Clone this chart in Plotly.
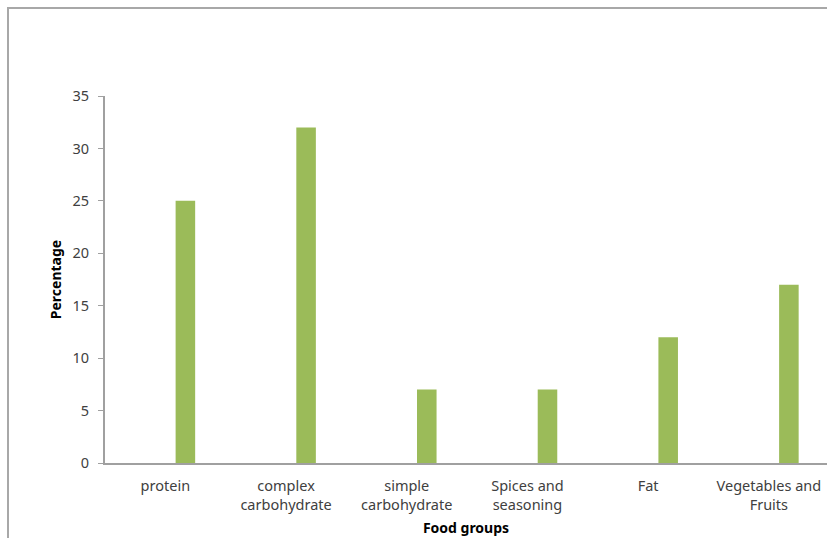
import plotly.graph_objects as go

categories = ["protein", "complex<br>carbohydrate", "simple<br>carbohydrate",
              "Spices and<br>seasoning", "Fat", "Vegetables and<br>Fruits"]
values = [25, 32, 7, 7, 12, 17]
y_ticks = [0, 5, 10, 15, 20, 25, 30, 35]

W, H = 827, 538
L, T, B = 105, 96, 75
plot_w = W - L
plot_h = H - T - B
slot = 120.7
x_hi = -0.5 + plot_w / slot

fig = go.Figure()
fig.add_trace(go.Bar(
    x=list(range(len(categories))), y=values,
    width=0.162, offset=0.085,
    marker=dict(color="#9BBB59", line=dict(width=0)),
    hoverinfo="x+y",
))

font_fam = "Noto Sans, Open Sans, sans-serif"
fig.update_layout(
    width=W, height=H,
    margin=dict(l=L, r=0, t=T, b=B),
    paper_bgcolor="white", plot_bgcolor="white",
    showlegend=False,
    font=dict(family=font_fam, size=14, color="#404040"),
    xaxis=dict(
        range=[-0.5, x_hi], tickmode="array",
        tickvals=list(range(len(categories))), ticktext=categories,
        showgrid=False, zeroline=False, showline=True,
        linecolor="#A0A0A0", linewidth=2, ticks="",
        ticklabelstandoff=9,
        tickfont=dict(size=14.5, color="#404040"),
        title=dict(text="<b>Food groups</b>", font=dict(size=14, color="black"), standoff=10),
    ),
    yaxis=dict(
        range=[0, 35], tickmode="array", tickvals=y_ticks,
        showgrid=False, zeroline=False, showline=True,
        linecolor="#A0A0A0", linewidth=2,
        ticks="outside", ticklen=5, tickcolor="#A0A0A0", tickwidth=1,
        ticklabelstandoff=6,
        tickfont=dict(size=14.5, color="#404040"),
        title=dict(text="<b>Percentage</b>", font=dict(size=14, color="black"), standoff=8),
    ),
    shapes=[dict(
        type="rect", xref="paper", yref="paper",
        x0=(8 - L) / plot_w, x1=1.05,
        y0=-1, y1=1 + (T - 8) / plot_h,
        line=dict(color="#A8A8A8", width=2), fillcolor="rgba(0,0,0,0)", layer="below",
    )],
)

fig.write_html("out.html")
